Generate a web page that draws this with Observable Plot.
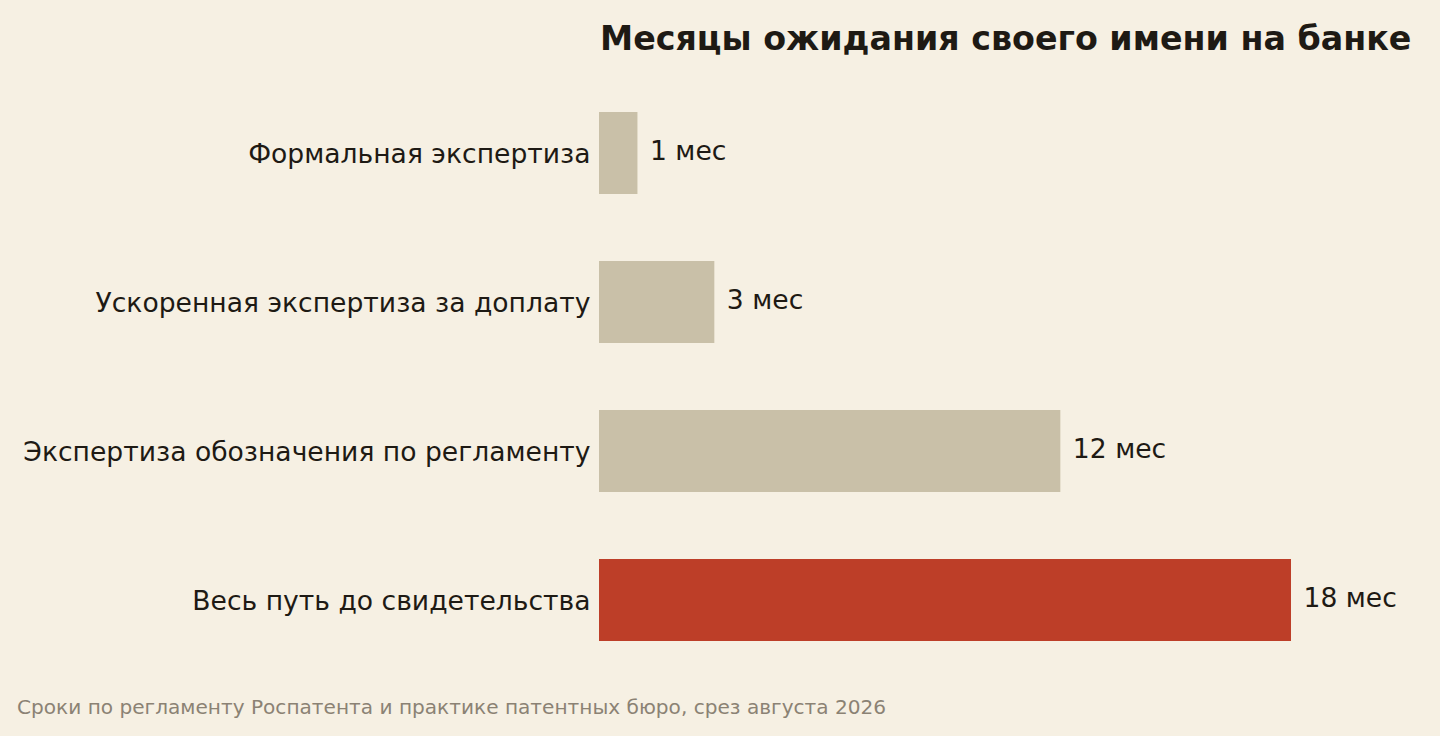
<!DOCTYPE html>
<html>
<head>
<meta charset="utf-8">
<script src="https://cdn.jsdelivr.net/npm/d3@7"></script>
<script src="https://cdn.jsdelivr.net/npm/@observablehq/plot@0.6"></script>
<style>
  html, body { margin: 0; padding: 0; background: #f6f0e3; width: 1440px; height: 736px; overflow: hidden; }
  body { font-family: "DejaVu Sans", sans-serif; color: #1e1a14; }
  #title { margin: 0; padding: 19px 0 0 600px; font-size: 33.3px; font-weight: bold; line-height: 40px; height: 40px; white-space: nowrap; }
  #chart svg { display: block; }
  #caption { margin: 0; padding: 15px 0 0 17px; font-size: 20.1px; line-height: 24px; color: #8b8274; white-space: nowrap; }
</style>
</head>
<body>
<div id="title">Месяцы ожидания своего имени на банке</div>
<div id="chart"></div>
<div id="caption">Сроки по регламенту Роспатента и практике патентных бюро, срез августа 2026</div>
<script>
const categories = [
  "Формальная экспертиза",
  "Ускоренная экспертиза за доплату",
  "Экспертиза обозначения по регламенту",
  "Весь путь до свидетельства"
];
const months = [1, 3, 12, 18];
const highlighted = [false, false, false, true];
const valueLabels = ["1 мес", "3 мес", "12 мес", "18 мес"];

const data = categories.map((c, i) => ({
  category: c,
  value: months[i],
  highlight: highlighted[i],
  label: valueLabels[i]
}));

const chart = Plot.plot({
  width: 1440,
  height: 621,
  marginLeft: 599,
  marginRight: 149,
  marginTop: 23,
  marginBottom: 9,
  style: { background: "transparent", fontFamily: "DejaVu Sans, sans-serif", color: "#1e1a14" },
  x: { domain: [0, 18], axis: null },
  y: { domain: categories, paddingInner: 0.45, paddingOuter: 0.2, label: null },
  marks: [
    Plot.barX(data, {
      x: "value",
      y: "category",
      fill: d => d.highlight ? "#bd3e28" : "#c9c0a8"
    }),
    Plot.text(data, {
      x: "value",
      y: "category",
      text: "label",
      textAnchor: "start",
      dx: 12,
      dy: -2,
      fontSize: 26.6,
      fill: "#1e1a14"
    }),
    Plot.axisY({
      tickSize: 0,
      tickPadding: 9,
      dy: 1,
      fontSize: 26.6,
      fill: "#1e1a14",
      label: null
    })
  ]
});
document.getElementById("chart").appendChild(chart);
</script>
</body>
</html>
